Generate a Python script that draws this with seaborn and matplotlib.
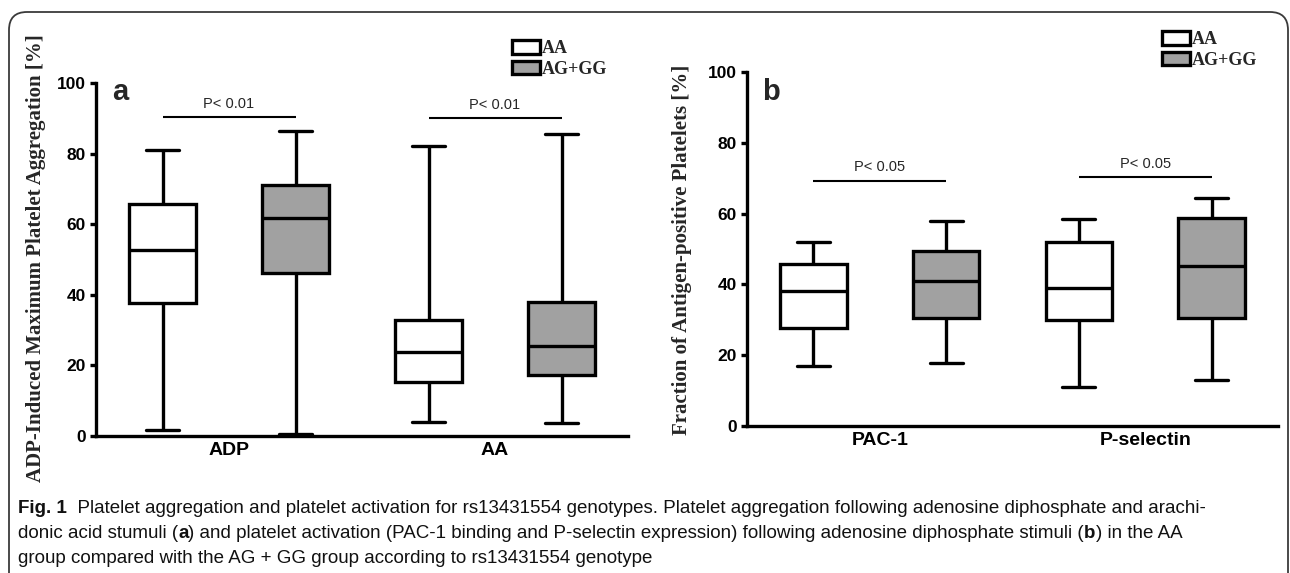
import seaborn as sns
import matplotlib.pyplot as plt
import pandas as pd
from matplotlib import font_manager
from matplotlib.patches import Patch, FancyBboxPatch
from matplotlib.transforms import IdentityTransform

# 그림 1: rs13431554 유전형별 혈소판 응집(a) / 활성화(b) 상자그림
# 상자 하나의 값 = [최소, Q1, 중앙값, Q3, 최대] 

genotypes = ['AA', 'AG+GG']
geno_colors = ['white', '#a1a1a1']

# (a) ADP/AA 자극 후 최대 혈소판 응집 [%]
agg_stimuli = ['ADP', 'AA']
adp_aa = [1.7, 37.8, 52.8, 65.7, 81.1]
adp_aggg = [0.6, 46.3, 61.8, 71.2, 86.6]
aa_aa = [4.1, 15.2, 23.7, 32.9, 82.3]
aa_aggg = [3.6, 17.3, 25.6, 37.9, 85.6]
agg_p_text = ['P< 0.01', 'P< 0.01']
agg_p_bar = [90.4, 90.3]
agg_p_label = [94.2, 93.8]

# (b) 항원 양성 혈소판 분율 [%]
act_markers = ['PAC-1', 'P-selectin']
pac1_aa = [17.0, 27.8, 38.2, 45.8, 52.1]
pac1_aggg = [17.8, 30.4, 41.0, 49.5, 57.9]
psel_aa = [11.1, 29.9, 38.9, 51.9, 58.5]
psel_aggg = [13.0, 30.6, 45.2, 58.7, 64.4]
act_p_text = ['P< 0.05', 'P< 0.05']
act_p_bar = [69.3, 70.3]
act_p_label = [73.2, 74.0]

y_ticks = [0, 20, 40, 60, 80, 100]

caption_lines = [
    [('Fig. 1', True), ('  Platelet aggregation and platelet activation for rs13431554 genotypes. '
                        'Platelet aggregation following adenosine diphosphate and arachi-', False)],
    [('donic acid stumuli (', False), ('a', True),
     (') and platelet activation (PAC-1 binding and P-selectin expression) following adenosine '
      'diphosphate stimuli (', False), ('b', True), (') in the AA', False)],
    [('group compared with the AG + GG group according to rs13431554 genotype', False)],
]

sns.set_style('ticks')
plt.rcParams['font.family'] = ['Liberation Sans', 'DejaVu Sans']
plt.rcParams['axes.edgecolor'] = 'black'
plt.rcParams['xtick.color'] = 'black'
plt.rcParams['ytick.color'] = 'black'

installed = {f.name for f in font_manager.fontManager.ttflist}
cap_font = 'Liberation Sans Narrow' if 'Liberation Sans Narrow' in installed else 'Liberation Sans'

W, H = 1290, 573
fig = plt.figure(figsize=(W / 100, H / 100), dpi=100)


def to_long(cats, boxes):
    rows = []
    for cat, pair in zip(cats, boxes):
        for g, vals in zip(genotypes, pair):
            rows += [(cat, g, v) for v in vals]
    return pd.DataFrame(rows, columns=['cat', 'geno', 'value'])


def panel(ax, cats, boxes, p_text, p_bar, p_label, letter, letter_y):
    df = to_long(cats, boxes)
    # 5개 값 + whis=(0,100) -> 사분위수/최소/최대가 그대로 그려짐
    sns.boxplot(data=df, x='cat', y='value', hue='geno', order=cats, hue_order=genotypes,
                palette=dict(zip(genotypes, geno_colors)), saturation=1,
                whis=(0, 100), width=1.0, gap=0.5, linewidth=2.4, linecolor='black',
                fliersize=0, legend=False, ax=ax)
    ax.set_xlim(-0.5, 1.5)
    ax.set_ylim(0, 100)
    ax.set_yticks(y_ticks, labels=[str(t) for t in y_ticks], fontweight='bold', fontsize=12.5)
    ax.set_xticks(range(len(cats)), labels=cats, fontweight='bold', fontsize=14)
    ax.set_xlabel('')
    ax.set_ylabel('')
    sns.despine(ax=ax)
    for s in ['left', 'bottom']:
        ax.spines[s].set_linewidth(2.4)
    ax.tick_params(axis='y', length=4.5, width=2.4, pad=3)
    ax.tick_params(axis='x', length=0, pad=4.5)
    # 유의성 표시
    for i, (txt, yb, yt) in enumerate(zip(p_text, p_bar, p_label)):
        ax.plot([i - 0.25, i + 0.25], [yb, yb], color='black', lw=1.5, solid_capstyle='butt')
        ax.text(i, yt, txt, ha='center', va='center', fontsize=10.5)
    ax.text(0.045, letter_y, letter, transform=ax.transAxes, fontsize=21,
            fontweight='bold', ha='center', va='baseline')


ax1 = fig.add_axes([96 / W, 137 / H, 532 / W, 352.7 / H])
ax2 = fig.add_axes([747 / W, 147.2 / H, 531 / W, 353.5 / H])

panel(ax1, agg_stimuli, [(adp_aa, adp_aggg), (aa_aa, aa_aggg)],
      agg_p_text, agg_p_bar, agg_p_label, 'a', 0.953)
panel(ax2, act_markers, [(pac1_aa, pac1_aggg), (psel_aa, psel_aggg)],
      act_p_text, act_p_bar, act_p_label, 'b', 0.922)

serif_bold = dict(family=['Liberation Serif', 'DejaVu Serif'], fontweight='bold')
fig.text(36 / W, 1 - 258 / H, 'ADP-Induced Maximum Platelet Aggregation [%]',
         rotation=90, ha='center', va='center', fontsize=15, **serif_bold)
fig.text(682 / W, 1 - 250 / H, 'Fraction of Antigen-positive Platelets [%]',
         rotation=90, ha='center', va='center', fontsize=15, **serif_bold)

# 범례 (두 패널 모두 위쪽 바깥)
handles = [Patch(facecolor=c, edgecolor='black', linewidth=2.4, label=g)
           for g, c in zip(genotypes, geno_colors)]
leg_font = font_manager.FontProperties(family='Liberation Serif', weight='bold', size=13)
for x0, y0 in [(512, 40), (1162, 31)]:
    fig.legend(handles=handles, loc='upper left', bbox_to_anchor=(x0 / W, 1 - y0 / H),
               frameon=False, borderpad=0, borderaxespad=0, handlelength=1.55,
               handleheight=0.78, handletextpad=0.12, labelspacing=0.2, prop=leg_font)

# 테두리 (아래쪽은 잘림)
fig.add_artist(FancyBboxPatch((9, -40), 1279, H - 12 + 40,
                              boxstyle='round,pad=0,rounding_size=18',
                              transform=IdentityTransform(), fill=False,
                              edgecolor='#3a3a3a', linewidth=1.3))

# 캡션
renderer = fig.canvas.get_renderer()
for parts, base in zip(caption_lines, [513, 538, 563]):
    x = 18
    for txt, bold in parts:
        t = fig.text(x / W, 1 - base / H, txt, fontsize=13.5, family=cap_font,
                     fontweight='bold' if bold else 'normal', ha='left', va='baseline',
                     color='#111111')
        x += t.get_window_extent(renderer).width

fig.savefig('out.png', dpi=100)
